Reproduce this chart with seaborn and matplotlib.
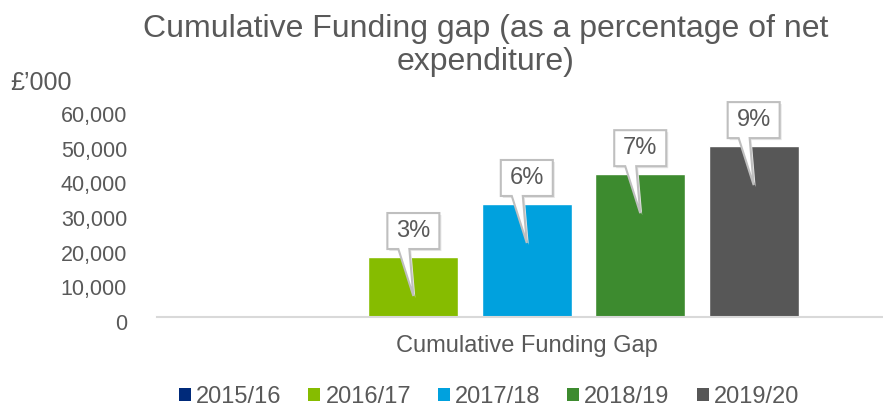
import matplotlib
matplotlib.use("Agg")
import matplotlib.pyplot as plt
import matplotlib.transforms as mtransforms
from matplotlib.patches import Polygon, Patch
import seaborn as sns
import pandas as pd

# ---- data ----
category = "Cumulative Funding Gap"
years = ["2015/16", "2016/17", "2017/18", "2018/19", "2019/20"]
values = [0, 17300, 32600, 41200, 49300]
pct_labels = [None, "3%", "6%", "7%", "9%"]
colors = ["#002A7A", "#86BC00", "#00A1DE", "#3D8B2F", "#575757"]
yticks = [0, 10000, 20000, 30000, 40000, 50000, 60000]
ytick_labels = ["0", "10,000", "20,000", "30,000", "40,000", "50,000", "60,000"]
title = "Cumulative Funding gap (as a percentage of net\nexpenditure)"
unit_label = "£’000"

GREY = "#595959"

sns.set_theme(style="white")
plt.rcParams["font.family"] = ["Liberation Sans", "DejaVu Sans"]

W, H = 883, 407
fig = plt.figure(figsize=(W / 100, H / 100), dpi=100)
ax = fig.add_axes([157 / W, (H - 317) / H, (883 - 157) / W - 0.0005, (317 - 109) / H])

df = pd.DataFrame({"category": [category] * len(years), "year": years, "value": values})
sns.barplot(data=df, x="category", y="value", hue="year", hue_order=years,
            palette=colors, width=0.8, gap=0.207, ax=ax, legend=False,
            saturation=1, errorbar=None)

ax.set_xlim(-0.5216, 0.5018)
ax.set_ylim(0, 60000)
ax.set_yticks(yticks)
ax.set_yticklabels(ytick_labels)
ax.set_xlabel("")
ax.set_ylabel("")
for s in ["top", "right", "left"]:
    ax.spines[s].set_visible(False)
ax.spines["bottom"].set_color("#D9D9D9")
ax.spines["bottom"].set_linewidth(1.5)
ax.tick_params(axis="y", length=0, pad=21.6, labelsize=15.5, labelcolor=GREY)
ax.tick_params(axis="x", length=0, pad=13, labelsize=17, labelcolor=GREY)
# shift y tick labels slightly downward as in the reference
off = mtransforms.ScaledTranslation(0, -5 / 100, fig.dpi_scale_trans)
for lab in ax.get_yticklabels():
    lab.set_transform(lab.get_transform() + off)
ax.grid(False)

# ---- callouts ----
verts_px = [(-26, 8), (-15, 8), (0, -39), (-4, 8), (26, 8), (26, 44), (-26, 44)]
verts_in = [(x / 100, y / 100) for x, y in verts_px]
shadow_in = [((x + 2) / 100, (y - 2) / 100) for x, y in verts_px]
for container, lab in zip(ax.containers, pct_labels):
    if lab is None:
        continue
    for bar in container:
        cx = bar.get_x() + bar.get_width() / 2
        cy = bar.get_height()
        tr = fig.dpi_scale_trans + mtransforms.ScaledTranslation(cx, cy, ax.transData)
        ax.add_patch(Polygon(shadow_in, closed=True, transform=tr, facecolor="#E6E6E6",
                             edgecolor="none", zorder=4, clip_on=False))
        ax.add_patch(Polygon(verts_in, closed=True, transform=tr, facecolor="white",
                             edgecolor="#BFBFBF", linewidth=1.5, zorder=5, clip_on=False))
        ax.text(0, 26 / 100, lab, transform=tr, ha="center", va="center",
                fontsize=17, color=GREY, zorder=6)

# ---- texts ----
fig.text(486 / W, 1 - 14 / H, title, ha="center", va="top", fontsize=23,
         color=GREY, linespacing=1.15)
fig.text(10 / W, 1 - 83 / H, unit_label, ha="left", va="center", fontsize=18, color=GREY)

handles = [Patch(facecolor=c, edgecolor="none", label=y) for c, y in zip(colors, years)]
fig.legend(handles=handles, loc="center", bbox_to_anchor=(489 / W, 1 - 397 / H),
           ncol=5, frameon=False, fontsize=17, handlelength=0.51, handleheight=0.51,
           handletextpad=0.21, columnspacing=1.14, borderpad=0, labelcolor=GREY)

fig.savefig("out.png", dpi=100)
